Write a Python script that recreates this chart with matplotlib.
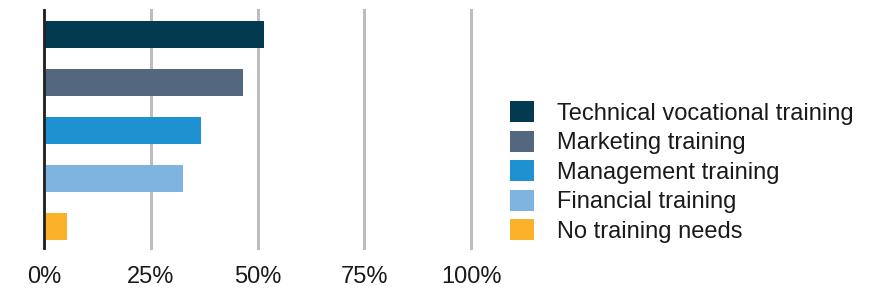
import matplotlib.pyplot as plt
from matplotlib.patches import Patch

categories = [
    "Technical vocational training",
    "Marketing training",
    "Management training",
    "Financial training",
    "No training needs",
]
values = [51.6, 46.5, 36.8, 32.5, 5.5]
colors = ["#033a50", "#53687e", "#1e92d0", "#7fb4e0", "#fbb22a"]
ticks = [0, 25, 50, 75, 100]
tick_labels = ["0%", "25%", "50%", "75%", "100%"]

plt.rcParams["font.family"] = ["Liberation Sans", "DejaVu Sans"]

fig = plt.figure(figsize=(8.71, 2.91), dpi=100)
ax = fig.add_axes([44 / 871, 1 - 248 / 291, (471 - 44) / 871, 238 / 291])

y = list(range(len(categories)))
ax.barh(y, values, height=0.5625, color=colors, zorder=3)

ax.set_xlim(0, 100)
ax.set_ylim(4.45, -0.51)
ax.set_xticks(ticks)
ax.set_xticklabels(tick_labels, fontsize=17, color="#1a1a1a")
ax.set_yticks([])
ax.tick_params(axis="x", length=0, pad=13)

ax.grid(axis="x", color="#bdbdbd", linewidth=2.2, zorder=0)
for line in ax.get_xgridlines():
    line.set_clip_on(False)
for s in ["top", "right", "bottom"]:
    ax.spines[s].set_visible(False)
ax.spines["left"].set_linewidth(2)
ax.spines["left"].set_color("#222222")
ax.spines["left"].set_zorder(4)

handles = [Patch(facecolor=c, label=l) for c, l in zip(colors, categories)]
fig.legend(
    handles=handles,
    loc="upper left",
    bbox_to_anchor=(510 / 871, 1 - 101 / 291),
    frameon=False,
    fontsize=17,
    labelcolor="#1a1a1a",
    handlelength=1.0,
    handleheight=1.0,
    handletextpad=1.0,
    labelspacing=0.25,
    borderpad=0,
    borderaxespad=0,
)

plt.savefig("out.png", dpi=100)
